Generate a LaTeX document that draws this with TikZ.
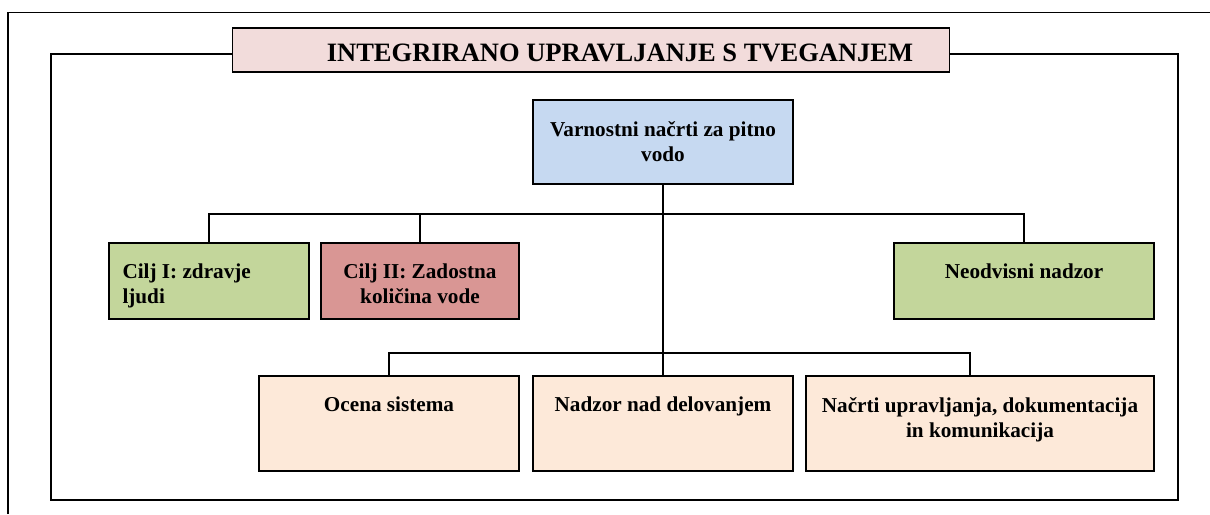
\documentclass[tikz,border=0pt]{standalone}
\usepackage{fontspec}
\setmainfont{Liberation Serif}
\usetikzlibrary{calc}

\definecolor{titlepink}{HTML}{F2DCDB}
\definecolor{planblue}{HTML}{C6D9F1}
\definecolor{goalgreen}{HTML}{C3D69B}
\definecolor{goalred}{HTML}{D99694}
\definecolor{steppeach}{HTML}{FDE9D9}

\begin{document}
\begin{tikzpicture}[x = 0.5pt, y = -0.5pt,
  box/.style = {draw, line width = 0.9pt, inner sep = 0pt},
  boxtext/.style = {anchor = north, inner sep = 0pt, yshift = -10.8pt, align = center,
    font = \fontsize{10.6}{12.5}\selectfont\bfseries},
  link/.style = {line width = 0.8pt}]
\useasboundingbox (0,0) rectangle (1210,514);

% page border and frame
\draw[line width = 0.9pt] (8,514)--(8,12.5)--(1210,12.5);
\coordinate (frameNW) at (51,54);
\coordinate (frameSE) at (1178,500);
\node[box, fill = titlepink, minimum width = 358.5pt, minimum height = 22pt,
  label = {[anchor = center, xshift = 14.5pt, yshift = -1.5pt,
    font = \fontsize{13.25}{15}\selectfont\bfseries]center:{INTEGRIRANO UPRAVLJANJE S TVEGANJEM}}] (title) at (591,50) {};
\draw[link] (title.west |- frameNW)--(frameNW)--(frameNW |- frameSE)--(frameSE)--(frameSE |- frameNW)--(title.east |- frameNW);

% boxes
\node[box, fill = planblue, minimum width = 130pt, minimum height = 42pt,
  label = {[boxtext]north:{Varnostni načrti za pitno\\vodo}}] (plan) at (663,142) {};
\node[box, fill = goalgreen, minimum width = 100pt, minimum height = 38pt,
  label = {[boxtext, anchor = north west, xshift = 7pt, align = left]north west:{Cilj I: zdravje\\ljudi}}] (health) at (209,281) {};
\node[box, fill = goalred, minimum width = 99pt, minimum height = 38pt,
  label = {[boxtext]north:{Cilj II: Zadostna\\količina vode}}] (quantity) at (420,281) {};
\node[box, fill = goalgreen, minimum width = 130pt, minimum height = 38pt,
  label = {[boxtext]north:{Neodvisni nadzor}}] (independent) at (1024,281) {};
\node[box, fill = steppeach, minimum width = 130pt, minimum height = 47.5pt,
  label = {[boxtext]north:{Ocena sistema}}] (assess) at (389,423.5) {};
\node[box, fill = steppeach, minimum width = 130pt, minimum height = 47.5pt,
  label = {[boxtext]north:{Nadzor nad delovanjem}}] (monitor) at (663,423.5) {};
\node[box, fill = steppeach, minimum width = 174pt, minimum height = 47.5pt,
  label = {[boxtext]north:{Načrti upravljanja, dokumentacija\\in komunikacija}}] (manage) at (980,423.5) {};

% connectors
\coordinate (busA) at (663,214);
\coordinate (busB) at (663,353);
\draw[line width = 1.4pt] (plan.south)--(busA);
\draw[link] (health.north)--(health.north |- busA)--(independent.north |- busA)--(independent.north);
\draw[link] (quantity.north)--(quantity.north |- busA);
\draw[link] (busA)--(monitor.north);
\draw[link] (assess.north)--(assess.north |- busB)--([xshift = -5pt]manage.north |- busB)--([xshift = -5pt]manage.north);
\end{tikzpicture}
\end{document}
